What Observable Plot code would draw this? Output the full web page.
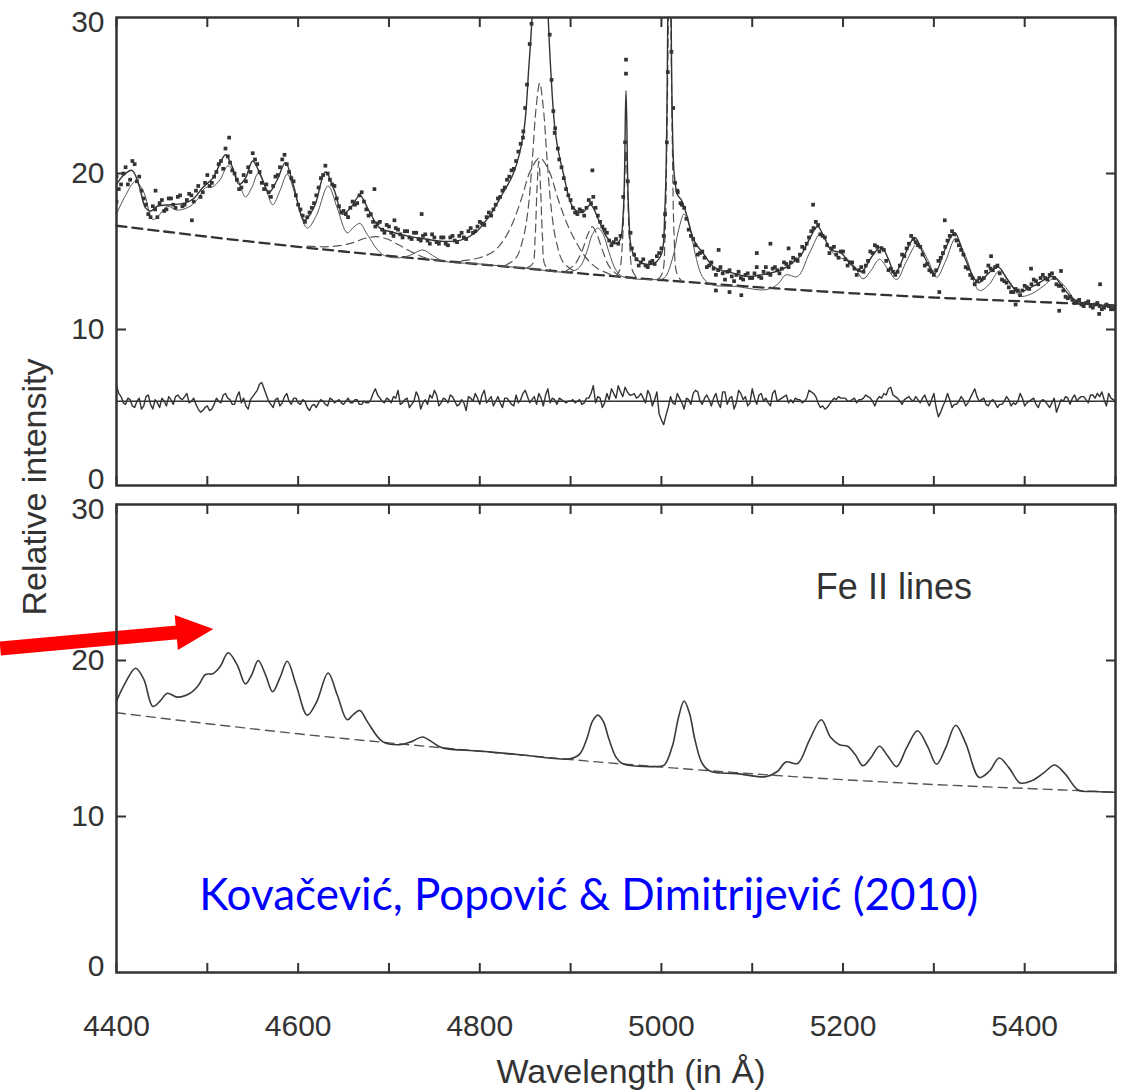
<!DOCTYPE html>
<html><head><meta charset="utf-8">
<script src="https://cdn.jsdelivr.net/npm/d3@7"></script>
<script src="https://cdn.jsdelivr.net/npm/@observablehq/plot@0.6"></script>
<style>html,body{margin:0;padding:0;background:#fff;} #chart svg{display:block;overflow:visible}</style>
</head><body><div id="chart"></div>
<script>
// ---------- DATA ----------
const continuum = [[4400,16.65],[4450,16.3],[4500,15.95],[4550,15.62],[4600,15.3],[4650,15.0],[4700,14.72],[4750,14.45],[4800,14.18],[4850,13.92],[4900,13.65],[4950,13.4],[5000,13.17],[5050,12.95],[5100,12.74],[5150,12.54],[5200,12.36],[5250,12.2],[5300,12.05],[5350,11.92],[5400,11.8],[5450,11.68],[5500,11.55]];

const feII = [[4400,17.4],[4410,18.6],[4421,19.5],[4430,18.8],[4440,17.05],[4448,17.4],[4456,17.9],[4467,17.65],[4481,17.9],[4490,18.4],[4498,19.1],[4506,19.15],[4514,19.6],[4523,20.5],[4533,19.7],[4542,18.5],[4549,19.1],[4556,20.0],[4564,19.1],[4572,18.0],[4580,18.9],[4588,19.95],[4598,18.4],[4610,16.5],[4620,17.3],[4633,19.2],[4643,17.8],[4654,16.2],[4661,16.55],[4668,16.8],[4676,16.1],[4693,14.8],[4712,14.6],[4725,14.8],[4737,15.1],[4748,14.75],[4759,14.4],[4800,14.2],[4850,13.93],[4899,13.7],[4910,14.0],[4918,15.0],[4924,16.1],[4930,16.5],[4936,16.1],[4942,15.0],[4950,13.8],[4957,13.4],[4992,13.2],[5003,13.3],[5012,14.5],[5019,16.4],[5025,17.4],[5031,16.6],[5037,14.9],[5045,13.4],[5054,12.9],[5083,12.75],[5115,12.55],[5128,12.9],[5137,13.5],[5150,13.4],[5163,14.9],[5176,16.2],[5186,15.1],[5196,14.6],[5205,14.5],[5213,14.0],[5222,13.25],[5231,13.8],[5240,14.5],[5249,13.9],[5259,13.2],[5270,14.4],[5282,15.5],[5293,14.5],[5303,13.35],[5313,14.4],[5324,15.85],[5335,14.7],[5350,12.5],[5361,12.9],[5372,13.75],[5383,13.1],[5395,12.15],[5408,12.3],[5421,12.8],[5433,13.3],[5445,12.7],[5459,11.7],[5478,11.6],[5500,11.55]];

const fitTop = [[4400,19.3],[4408,19.9],[4417,20.2],[4425,19.2],[4432,17.8],[4438,17.6],[4445,17.9],[4460,18.0],[4475,18.1],[4485,18.4],[4495,19.1],[4506,19.7],[4513,20.5],[4520,21.2],[4527,20.5],[4535,19.3],[4542,19.7],[4550,20.8],[4558,20.0],[4568,18.8],[4577,19.6],[4586,20.7],[4595,19.2],[4607,17.0],[4618,17.9],[4630,20.1],[4640,18.9],[4649,17.4],[4659,17.9],[4668,18.6],[4678,17.6],[4690,16.5],[4700,16.3],[4720,16.0],[4740,15.8],[4760,15.65],[4780,15.75],[4795,16.2],[4812,17.4],[4825,18.7],[4837,20.0],[4848,22.5],[4854,26.8],[4858,30.5],[4862,38],[4866,42],[4870,38],[4875,30.5],[4878,26.8],[4883.5,22.5],[4892,20.0],[4903,17.8],[4913,17.5],[4922,18.0],[4931,17.0],[4939,16.0],[4947,15.5],[4954,15.7],[4958,17.5],[4961,25.3],[4964,17.5],[4968,15.0],[4977,14.3],[4990,14.2],[4999,14.7],[5004,18],[5009,45],[5014,20],[5018,18.6],[5022,18.3],[5028,17.3],[5036,15.7],[5047,14.8],[5058,14.0],[5080,13.6],[5095,13.4],[5110,13.5],[5131,13.8],[5145,14.3],[5153,14.7],[5163,15.8],[5172,16.6],[5180,15.8],[5187,15.1],[5198,14.9],[5208,14.2],[5220,13.7],[5232,14.7],[5242,15.3],[5250,14.5],[5257,13.6],[5268,14.8],[5279,15.9],[5290,14.6],[5301,13.6],[5312,15.1],[5323,16.2],[5334,14.6],[5349,13.0],[5360,13.6],[5371,14.0],[5381,13.2],[5393,12.4],[5410,12.8],[5422,13.2],[5432,13.4],[5442,12.7],[5455,11.9],[5475,11.6],[5500,11.45]];

const observed = [[4400,18.2],[4400,19.8],[4405,19.3],[4410,20.4],[4415,19.6],[4420,20.6],[4425,19.8],[4430,18.4],[4435,17.4],[4440,17.9],[4443,18.9],[4445,17.2],[4450,18.3],[4455,17.7],[4460,18.4],[4465,17.8],[4470,18.6],[4475,18.0],[4480,18.7],[4483,17.0],[4485,18.2],[4490,19.2],[4495,18.8],[4500,19.9],[4505,19.4],[4510,20.1],[4515,20.8],[4520,21.6],[4524,22.3],[4525,20.7],[4530,20.0],[4535,19.0],[4540,19.9],[4545,20.4],[4550,21.3],[4555,20.6],[4560,19.4],[4565,19.3],[4570,18.5],[4575,19.8],[4580,20.4],[4585,21.2],[4590,20.1],[4595,19.5],[4600,18.0],[4605,17.3],[4610,17.2],[4615,17.8],[4620,18.6],[4625,19.7],[4630,20.5],[4635,19.6],[4640,19.2],[4645,17.9],[4650,17.6],[4655,17.2],[4660,18.2],[4665,18.1],[4670,18.8],[4675,17.7],[4680,17.4],[4684,19.0],[4685,16.6],[4690,16.9],[4695,16.2],[4700,16.6],[4705,16.0],[4706,17.0],[4710,16.4],[4715,15.9],[4720,16.3],[4725,15.8],[4730,16.2],[4735,15.7],[4736,17.4],[4740,16.1],[4745,15.5],[4750,15.9],[4755,15.5],[4760,15.9],[4765,15.4],[4770,16.0],[4775,15.6],[4780,16.2],[4785,15.8],[4790,16.5],[4795,16.3],[4800,16.9],[4805,16.7],[4810,17.5],[4815,17.7],[4820,18.4],[4825,18.9],[4830,19.6],[4835,20.2],[4840,20.8],[4845,21.9],[4848,22.7],[4850,24.2],[4852,25.7],[4855,28.3],[4857,29.6],[4877,28.9],[4879,26.0],[4881,24.0],[4883,22.9],[4886,21.6],[4890,20.4],[4895,19.0],[4900,18.3],[4905,17.5],[4910,17.7],[4915,17.3],[4920,18.3],[4924,20.2],[4925,18.5],[4930,17.3],[4935,16.6],[4940,16.2],[4945,15.4],[4950,15.8],[4955,16.0],[4958,18.5],[4960,22.0],[4961,26.4],[4961,27.3],[4963,19.5],[4966,16.2],[4970,14.8],[4975,14.1],[4980,14.5],[4985,14.0],[4990,14.4],[4995,14.7],[5000,15.2],[5004,17.4],[5006,22.0],[5007,26.5],[5011,27.8],[5013,24.2],[5015,19.4],[5018,18.8],[5021,18.1],[5025,17.8],[5030,16.4],[5035,15.8],[5040,14.8],[5045,15.0],[5050,14.0],[5055,14.3],[5060,13.5],[5060,12.5],[5063,15.1],[5065,14.0],[5070,13.2],[5075,13.8],[5075,12.4],[5080,13.1],[5085,13.7],[5088,12.2],[5090,13.2],[5095,13.6],[5100,13.3],[5105,14.0],[5105,14.9],[5110,13.3],[5115,14.0],[5120,13.5],[5120,15.5],[5125,14.0],[5130,13.6],[5135,14.3],[5140,14.0],[5140,15.2],[5145,14.6],[5150,14.4],[5155,15.3],[5160,15.5],[5165,16.3],[5167,18.0],[5170,16.9],[5175,16.1],[5180,15.9],[5185,14.9],[5190,15.3],[5195,14.6],[5200,15.0],[5205,14.1],[5210,14.3],[5215,13.5],[5220,14.0],[5225,14.1],[5230,15.0],[5235,15.4],[5240,15.0],[5245,15.1],[5250,13.8],[5255,13.7],[5260,13.7],[5265,14.8],[5270,15.2],[5275,16.0],[5280,15.6],[5285,15.3],[5290,14.1],[5295,13.8],[5300,13.5],[5305,14.4],[5306,12.4],[5310,14.9],[5312,17.0],[5315,15.7],[5320,16.3],[5325,15.7],[5330,15.1],[5335,14.0],[5340,13.5],[5345,12.9],[5350,13.3],[5355,13.3],[5360,14.1],[5363,14.7],[5365,13.8],[5370,14.1],[5375,13.2],[5380,13.0],[5385,12.4],[5390,12.6],[5390,11.6],[5395,12.2],[5400,12.8],[5405,12.6],[5407,13.9],[5410,13.2],[5415,12.9],[5420,13.5],[5425,13.2],[5430,13.6],[5435,12.9],[5438,11.2],[5440,12.8],[5440,13.75],[5445,12.1],[5450,12.1],[5455,11.7],[5460,11.9],[5465,11.5],[5470,11.8],[5475,11.4],[5480,11.7],[5482,11.0],[5483,12.9],[5485,11.3],[5490,11.6],[5495,11.3],[5500,11.4]];

// second interleaved set of observed points
const observedB = [[4402.5,19.0],[4407.5,20.0],[4412.5,19.3],[4417.5,20.8],[4422.5,19.5],[4427.5,18.9],[4432.5,18.0],[4437.5,17.2],[4442.5,17.7],[4447.5,18.1],[4452.5,17.6],[4457.5,18.4],[4462.5,18.0],[4467.5,18.5],[4472.5,17.9],[4477.5,18.3],[4482.5,18.6],[4487.5,18.9],[4492.5,18.5],[4497.5,19.4],[4502.5,19.2],[4507.5,19.8],[4512.5,20.6],[4517.5,20.3],[4522.5,21.1],[4527.5,20.2],[4532.5,19.6],[4537.5,19.1],[4542.5,19.5],[4547.5,20.1],[4552.5,20.9],[4557.5,20.1],[4562.5,19.0],[4567.5,18.8],[4572.5,19.2],[4577.5,19.9],[4582.5,20.9],[4587.5,20.6],[4592.5,19.7],[4597.5,18.6],[4602.5,17.7],[4607.5,16.9],[4612.5,17.5],[4617.5,18.1],[4622.5,19.1],[4627.5,19.9],[4632.5,20.0],[4637.5,19.3],[4642.5,18.4],[4647.5,17.5],[4652.5,17.4],[4657.5,17.8],[4662.5,18.0],[4667.5,18.6],[4672.5,18.2],[4677.5,17.3],[4682.5,16.9],[4687.5,16.8],[4692.5,16.4],[4697.5,16.7],[4702.5,16.2],[4707.5,16.5],[4712.5,16.1],[4717.5,16.3],[4722.5,15.9],[4727.5,16.2],[4732.5,15.8],[4737.5,16.0],[4742.5,15.7],[4747.5,16.1],[4752.5,15.6],[4757.5,15.9],[4762.5,15.5],[4767.5,15.9],[4772.5,15.7],[4777.5,16.0],[4782.5,15.9],[4787.5,16.3],[4792.5,16.2],[4797.5,16.6],[4802.5,16.8],[4807.5,17.2],[4812.5,17.3],[4817.5,18.0],[4822.5,18.5],[4827.5,19.1],[4832.5,19.8],[4837.5,20.3],[4842.5,21.4],[4847.5,22.3],[4882.5,22.6],[4887.5,20.9],[4892.5,19.7],[4897.5,18.6],[4902.5,17.8],[4907.5,17.4],[4912.5,17.6],[4917.5,17.8],[4922.5,18.1],[4927.5,17.8],[4932.5,16.9],[4937.5,16.4],[4942.5,15.7],[4947.5,15.6],[4952.5,15.5],[4967.5,15.2],[4972.5,14.5],[4977.5,14.3],[4982.5,14.1],[4987.5,14.3],[4992.5,14.2],[4997.5,14.9],[5002.5,16.0],[5017.5,18.9],[5022.5,18.0],[5027.5,17.1],[5032.5,16.0],[5037.5,15.4],[5042.5,14.9],[5047.5,14.6],[5052.5,14.1],[5057.5,13.9],[5062.5,13.8],[5067.5,13.6],[5072.5,13.7],[5077.5,13.4],[5082.5,13.5],[5087.5,13.3],[5092.5,13.5],[5097.5,13.3],[5102.5,13.6],[5107.5,13.4],[5112.5,13.7],[5117.5,13.6],[5122.5,13.9],[5127.5,13.8],[5132.5,13.9],[5137.5,14.2],[5142.5,14.3],[5147.5,14.5],[5152.5,14.8],[5157.5,15.2],[5162.5,15.9],[5167.5,16.5],[5172.5,16.7],[5177.5,16.0],[5182.5,15.4],[5187.5,15.2],[5192.5,14.8],[5197.5,15.0],[5202.5,14.5],[5207.5,14.3],[5212.5,13.9],[5217.5,13.8],[5222.5,13.7],[5227.5,14.4],[5232.5,14.9],[5237.5,15.3],[5242.5,15.2],[5247.5,14.4],[5252.5,13.9],[5257.5,13.5],[5262.5,14.1],[5267.5,14.7],[5272.5,15.5],[5277.5,15.8],[5282.5,15.4],[5287.5,14.8],[5292.5,14.2],[5297.5,13.7],[5302.5,13.8],[5307.5,14.6],[5312.5,15.3],[5317.5,16.0],[5322.5,16.1],[5327.5,15.4],[5332.5,14.8],[5337.5,13.9],[5342.5,13.3],[5347.5,13.1],[5352.5,13.2],[5357.5,13.7],[5362.5,13.9],[5367.5,14.0],[5372.5,13.6],[5377.5,13.1],[5382.5,12.7],[5387.5,12.4],[5392.5,12.5],[5397.5,12.5],[5402.5,12.7],[5407.5,12.9],[5412.5,13.1],[5417.5,13.3],[5422.5,13.3],[5427.5,13.5],[5432.5,13.3],[5437.5,12.8],[5442.5,12.5],[5447.5,12.0],[5452.5,11.9],[5457.5,11.8],[5462.5,11.6],[5467.5,11.7],[5472.5,11.5],[5477.5,11.6],[5482.5,11.5],[5487.5,11.4],[5492.5,11.5],[5497.5,11.3]];

// residuals: samples at 4400, 4405, ... and in-between samples at 4402.5, 4407.5, ...
const residualStart = 4400, residualStep = 5;
const residual = [6.4,5.7,5.2,5.5,5.0,5.6,5.1,5.8,4.9,5.3,5.6,5.1,5.5,5.7,5.6,5.7,5.3,5.6,4.9,4.8,5.1,4.9,5.6,5.3,5.9,5.5,5.2,6.0,5.6,4.9,5.7,6.1,6.6,5.8,5.2,5.5,5.1,5.7,5.4,5.6,5.3,5.5,5.0,5.1,5.0,5.5,5.2,5.6,5.3,5.5,5.2,5.6,5.3,5.5,5.2,5.3,5.5,6.2,5.6,5.3,5.5,5.7,6.1,5.3,5.6,5.2,6.0,4.9,5.5,5.8,6.1,5.1,5.6,5.3,5.7,5.1,5.5,4.8,5.6,5.9,5.2,6.1,5.5,5.1,5.7,5.0,5.6,5.2,5.8,5.5,6.1,5.3,5.7,5.9,5.1,6.2,5.6,5.2,5.5,5.3,5.4,5.3,5.5,5.3,5.6,6.4,5.7,5.0,5.9,6.2,5.6,6.0,6.3,5.8,5.9,5.7,5.6,6.1,5.1,6.0,4.2,4.5,5.7,5.2,5.6,4.9,5.5,5.9,6.0,5.2,5.8,5.1,5.9,5.0,6.0,5.6,4.9,6.1,5.5,5.1,6.2,5.2,5.9,5.6,5.1,6.1,5.5,5.7,5.3,5.3,5.5,5.3,5.6,6.0,5.7,5.0,4.9,5.2,5.6,5.7,5.6,5.4,5.5,5.3,5.5,5.8,5.6,5.1,5.7,5.9,6.2,5.8,5.6,5.2,5.6,5.5,5.7,5.3,5.8,5.1,5.9,4.4,5.1,5.9,5.0,5.2,5.7,5.1,5.6,6.2,5.4,5.6,5.1,5.5,5.0,5.2,5.7,5.1,5.2,5.9,5.1,5.4,5.6,5.0,5.5,5.2,5.3,4.7,5.5,5.7,5.2,5.8,5.6,5.7,5.3,5.8,5.9,6.0,5.1,5.6,5.4];
const residualMid = [5.9,5.3,5.6,5.1,5.4,4.9,5.7,5.2,5.5,5.0,5.4,5.7,5.2,5.8,5.5,5.9,5.4,5.2,4.7,5.0,4.8,5.2,5.4,5.8,5.6,5.2,5.7,5.3,5.1,5.5,5.9,6.5,6.2,5.4,5.0,5.6,5.3,5.9,5.2,5.6,5.2,5.4,4.8,5.2,5.3,5.4,5.1,5.5,5.4,5.3,5.4,5.3,5.5,5.2,5.4,5.3,5.9,5.8,5.4,5.6,5.3,5.6,5.2,5.5,5.0,5.4,5.7,5.3,5.2,5.6,5.8,5.3,5.5,5.8,5.4,5.2,5.3,5.7,5.4,5.6,5.8,5.3,5.7,5.4,5.3,5.6,5.4,5.1,5.3,5.9,5.7,5.5,5.2,5.6,5.8,5.3,5.5,5.6,5.4,5.4,5.5,5.4,5.2,5.6,5.9,5.3,5.6,5.3,5.5,5.9,6.4,5.7,6.0,5.8,5.6,5.9,5.3,5.8,5.5,4.6,3.9,5.0,5.3,5.9,5.3,5.6,5.2,6.1,5.4,5.6,5.5,5.6,5.3,6.0,5.2,5.7,5.3,5.9,5.7,5.3,5.6,5.8,5.4,5.3,5.9,5.4,5.6,5.8,5.5,5.6,5.5,5.4,6.1,5.9,5.3,5.1,5.0,5.4,5.5,5.6,5.6,5.4,5.6,5.5,5.6,5.7,5.4,5.5,5.6,5.8,6.3,5.7,5.4,5.5,5.7,5.4,5.5,5.6,5.4,5.5,5.0,4.7,5.4,5.5,5.2,5.4,5.5,5.3,5.9,5.7,5.5,5.2,5.4,5.3,5.2,5.4,5.5,5.3,5.4,5.6,5.3,5.5,5.2,5.4,5.4,5.0,5.6,5.1,5.4,5.6,5.6,5.4,5.7,5.5,5.8,5.6,5.7,5.5,5.9,5.5];
const residualZero = 5.4;

// dashed line components (top panel)
const hbBroad = [[4780,14.4],[4800,14.6],[4815,15.0],[4826,15.7],[4836,16.8],[4846,18.4],[4856,20.2],[4866,21.0],[4876,20.2],[4886,18.4],[4896,16.8],[4906,15.6],[4917,14.6],[4930,13.9],[4950,13.4]];
const hbMid = [[4828,14.1],[4840,14.6],[4848,15.9],[4853,17.6],[4858,21.0],[4862,24.2],[4866,25.8],[4870,24.2],[4874,21.0],[4879,17.6],[4884,15.7],[4892,14.3],[4905,13.7]];
const hbNarrow = [[4852,13.95],[4858,14.2],[4861,16.0],[4863,19.0],[4865,20.8],[4867,19.0],[4869,16.0],[4872,14.1],[4878,13.85]];
const heI = [[4895,13.75],[4905,14.2],[4913,15.1],[4919,16.1],[4924,16.6],[4929,16.1],[4935,15.1],[4943,14.0],[4955,13.35]];
const oiii4959 = [[4950,13.4],[4954,13.8],[4957,15.5],[4959,18.5],[4961,21.5],[4963,18.5],[4965,15.5],[4968,13.8],[4973,13.3]];
const oiii5007 = [[4996,13.2],[5001,13.6],[5004,16],[5006,22],[5009,34],[5012,22],[5014,16],[5017,13.6],[5023,13.05]];
const heII = [[4610,15.35],[4630,15.3],[4648,15.4],[4662,15.6],[4674,15.85],[4686,15.95],[4698,15.8],[4710,15.45],[4724,15.0],[4740,14.6],[4760,14.4]];

// ticks
const yLabelTicks = [10, 20];
const yTopTick = [30];
const yBottomTick = [0];
const yInnerTicks = [10, 20];
const xMinorTicks = [4400,4500,4600,4700,4800,4900,5000,5100,5200,5300,5400,5500];
const xLabelTicks = [4400,4600,4800,5000,5200,5400];

// annotations (bottom panel)
const feLabel = [{panel: "bottom", x: 5256, y: 24.7, text: "Fe II lines"}];
const citation = [{panel: "bottom", x: 4920, y: 4.9, text: "Kovačević, Popović & Dimitrijević (2010)"}];
const arrowShaft = [{panel: "bottom", x1: 4272, y1: 20.77, x2: 4470, y2: 21.82}];
const arrowHead = [[4464.1,22.92],[4506.6,22.02],[4467.6,20.68]];

// ---------- BUILD ----------
const rows = (arr, panel) => arr.map(([x, y]) => ({x, y, panel}));
const font = "'Liberation Sans', Arial, Helvetica, sans-serif";
const ink = "#333";
const residualRows = [
  ...residual.map((v, i) => ({x: residualStart + i * residualStep, y: v, panel: "top"})),
  ...residualMid.map((v, i) => ({x: residualStart + residualStep / 2 + i * residualStep, y: v, panel: "top"}))
].sort((a, b) => a.x - b.x);
const dashedComponents = [hbBroad, hbMid, hbNarrow, heI, oiii4959, oiii5007, heII];

const marks = [];
// top panel
marks.push(Plot.line(rows(continuum, "top"), {x: "x", y: "y", fy: "panel", stroke: ink, strokeWidth: 2.3, strokeDasharray: "10,6", curve: "catmull-rom"}));
dashedComponents.forEach(c => marks.push(Plot.line(rows(c, "top"), {x: "x", y: "y", fy: "panel", stroke: "#555", strokeWidth: 1.2, strokeDasharray: "8,5", curve: "catmull-rom", clip: true})));
marks.push(Plot.line(rows(feII, "top"), {x: "x", y: "y", fy: "panel", stroke: "#555", strokeWidth: 1, curve: "catmull-rom", clip: true}));
marks.push(Plot.line(rows(fitTop, "top"), {x: "x", y: "y", fy: "panel", stroke: ink, strokeWidth: 1.4, curve: "catmull-rom", clip: true}));
marks.push(Plot.dot(rows(observed, "top").concat(rows(observedB, "top")), {x: "x", y: "y", fy: "panel", symbol: "square", r: 2.1, fill: ink, stroke: "none", clip: true}));
marks.push(Plot.ruleY([{y: residualZero, panel: "top"}], {y: "y", fy: "panel", stroke: ink, strokeWidth: 1.3}));
marks.push(Plot.line(residualRows, {x: "x", y: "y", fy: "panel", stroke: ink, strokeWidth: 1.4}));
// bottom panel
marks.push(Plot.line(rows(continuum, "bottom"), {x: "x", y: "y", fy: "panel", stroke: "#555", strokeWidth: 1.4, strokeDasharray: "9,6", curve: "catmull-rom"}));
marks.push(Plot.line(rows(feII, "bottom"), {x: "x", y: "y", fy: "panel", stroke: "#3a3a3a", strokeWidth: 1.6, curve: "catmull-rom"}));
marks.push(Plot.text(feLabel, {x: "x", y: "y", fy: "panel", text: "text", fontSize: 36, fontFamily: font, fill: ink}));
marks.push(Plot.text(citation, {x: "x", y: "y", fy: "panel", text: "text", fontSize: 44, fontFamily: "Lato, 'Open Sans', sans-serif", fill: "#0000ff"}));
marks.push(Plot.link(arrowShaft, {x1: "x1", y1: "y1", x2: "x2", y2: "y2", fy: "panel", stroke: "#ff0000", strokeWidth: 14, strokeLinecap: "butt"}));
marks.push(Plot.line(rows(arrowHead, "bottom"), {x: "x", y: "y", fy: "panel", fill: "#ff0000", stroke: "none"}));
// frame & axes
marks.push(Plot.frame({stroke: ink, strokeWidth: 2.5}));
marks.push(Plot.axisY(yLabelTicks, {anchor: "left", tickSize: 0, tickPadding: 12, fontSize: 30, fill: ink, label: null}));
marks.push(Plot.axisY(yTopTick, {anchor: "left", tickSize: 0, tickPadding: 12, fontSize: 30, fill: ink, label: null, dy: 5}));
marks.push(Plot.axisY(yBottomTick, {anchor: "left", tickSize: 0, tickPadding: 12, fontSize: 30, fill: ink, label: null, dy: -6}));
marks.push(Plot.axisY(yInnerTicks, {anchor: "left", tickSize: -10, tickFormat: () => "", stroke: ink, strokeWidth: 2, label: null}));
marks.push(Plot.axisY(yInnerTicks, {anchor: "right", tickSize: -10, tickFormat: () => "", stroke: ink, strokeWidth: 2, label: null}));
marks.push(Plot.axisX(xMinorTicks, {anchor: "bottom", tickSize: -9, tickFormat: () => "", stroke: ink, strokeWidth: 2, label: null, facetAnchor: null}));
marks.push(Plot.axisX(xMinorTicks, {anchor: "top", tickSize: -9, tickFormat: () => "", stroke: ink, strokeWidth: 2, label: null, facetAnchor: null}));
marks.push(Plot.axisX(xLabelTicks, {anchor: "bottom", tickSize: 0, tickPadding: 42, fontSize: 30, fill: ink, label: null, tickFormat: d => String(d)}));

const chart = Plot.plot({
  width: 1125, height: 1090,
  marginLeft: 116, marginRight: 10, marginTop: 16.5, marginBottom: 117,
  style: {fontFamily: font, color: ink, background: "#fff", overflow: "visible"},
  x: {domain: [4400, 5500], axis: null},
  y: {domain: [0, 30], axis: null},
  fy: {domain: ["top", "bottom"], axis: null, paddingInner: 0.038, paddingOuter: 0},
  marks
});

const svg = d3.select(chart);
svg.append("text")
  .attr("transform", "translate(46,487) rotate(-90)")
  .attr("text-anchor", "middle")
  .attr("font-family", font).attr("font-size", 34).attr("fill", ink)
  .text("Relative intensity");
svg.append("text")
  .attr("x", 631).attr("y", 1083)
  .attr("text-anchor", "middle")
  .attr("font-family", font).attr("font-size", 34).attr("fill", ink)
  .text("Wavelength (in Å)");

document.getElementById("chart").appendChild(chart);
</script>
</body></html>
